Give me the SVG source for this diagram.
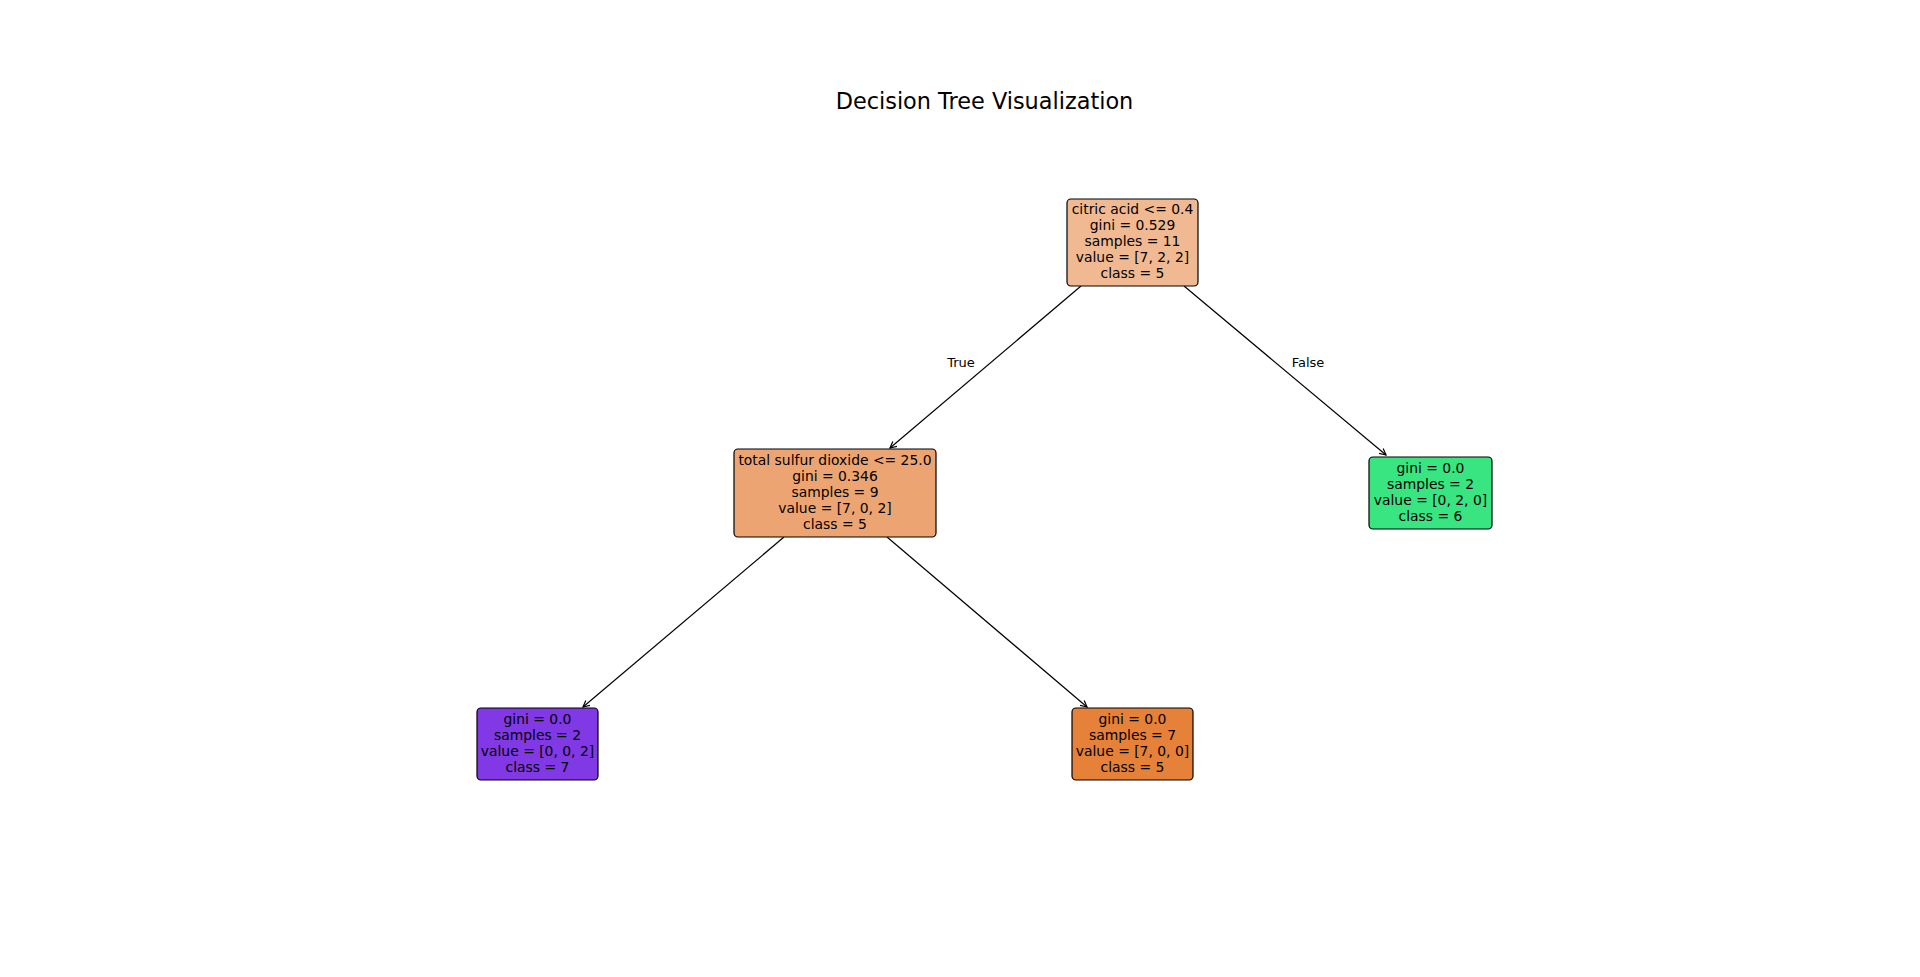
<svg xmlns="http://www.w3.org/2000/svg" width="1920" height="977" viewBox="0 0 1920 977">
  <style>
    .node rect { stroke: #000; stroke-width: 1.2; }
    .node text { font-family: "DejaVu Sans", sans-serif; font-size: 13.9px; fill: #000; text-anchor: middle; }
    .edge-label { font-family: "DejaVu Sans", sans-serif; font-size: 13px; fill: #000; text-anchor: middle; }
    .title { font-family: "DejaVu Sans", sans-serif; font-size: 22.4px; fill: #000; text-anchor: middle; }
    .edge { stroke: #000; stroke-width: 1.2; fill: none; marker-end: url(#arrow); }
  </style>
  <defs>
    <marker id="arrow" viewBox="0 0 10 10" refX="9" refY="5" markerWidth="8" markerHeight="8" markerUnits="userSpaceOnUse" orient="auto">
      <path d="M1,1 L9,5 L1,9" fill="none" stroke="#000" stroke-width="1.5"/>
    </marker>
  </defs>
  <rect width="1920" height="977" fill="#fff"/>
  <text class="title" x="984.5" y="109">Decision Tree Visualization</text>

  <g id="connectors">
    <line class="edge" x1="1081" y1="286" x2="890" y2="448"/>
    <line class="edge" x1="1184" y1="286" x2="1386" y2="455"/>
    <line class="edge" x1="784" y1="537" x2="583" y2="707"/>
    <line class="edge" x1="887" y1="537" x2="1087" y2="707"/>
    <text class="edge-label" x="961" y="367">True</text>
    <text class="edge-label" x="1308" y="367">False</text>
  </g>

  <g id="node-root" class="node">
    <rect x="1067" y="199" width="131" height="87" rx="4" fill="#f1b991"/>
    <text x="1132.5" y="214">citric acid &lt;= 0.4</text>
    <text x="1132.5" y="230">gini = 0.529</text>
    <text x="1132.5" y="246">samples = 11</text>
    <text x="1132.5" y="262">value = [7, 2, 2]</text>
    <text x="1132.5" y="278">class = 5</text>
  </g>

  <g id="node-sulfur" class="node">
    <rect x="734" y="449" width="202" height="88" rx="4" fill="#eca572"/>
    <text x="835" y="465">total sulfur dioxide &lt;= 25.0</text>
    <text x="835" y="481">gini = 0.346</text>
    <text x="835" y="497">samples = 9</text>
    <text x="835" y="513">value = [7, 0, 2]</text>
    <text x="835" y="529">class = 5</text>
  </g>

  <g id="node-class6" class="node">
    <rect x="1369" y="457" width="123" height="72" rx="4" fill="#39e581"/>
    <text x="1430.5" y="473">gini = 0.0</text>
    <text x="1430.5" y="489">samples = 2</text>
    <text x="1430.5" y="505">value = [0, 2, 0]</text>
    <text x="1430.5" y="521">class = 6</text>
  </g>

  <g id="node-class7" class="node">
    <rect x="477" y="708" width="121" height="72" rx="4" fill="#8139e5"/>
    <text x="537.5" y="724">gini = 0.0</text>
    <text x="537.5" y="740">samples = 2</text>
    <text x="537.5" y="756">value = [0, 0, 2]</text>
    <text x="537.5" y="772">class = 7</text>
  </g>

  <g id="node-class5" class="node">
    <rect x="1072" y="708" width="121" height="72" rx="4" fill="#e58139"/>
    <text x="1132.5" y="724">gini = 0.0</text>
    <text x="1132.5" y="740">samples = 7</text>
    <text x="1132.5" y="756">value = [7, 0, 0]</text>
    <text x="1132.5" y="772">class = 5</text>
  </g>
</svg>
